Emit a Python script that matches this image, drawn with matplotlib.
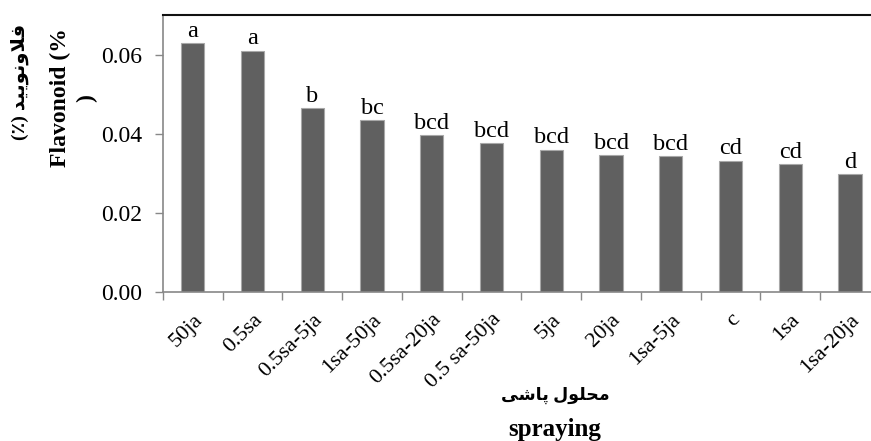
import matplotlib
matplotlib.use('Agg')
import matplotlib.pyplot as plt
import numpy as np

# داده ها
treatments = ['50ja', '0.5sa', '0.5sa-5ja', '1sa-50ja', '0.5sa-20ja', '0.5 sa-50ja',
              '5ja', '20ja', '1sa-5ja', 'c', '1sa', '1sa-20ja']
flavonoid = [0.0628, 0.0610, 0.0465, 0.0434, 0.0397, 0.0376,
             0.0360, 0.0346, 0.0344, 0.0332, 0.0323, 0.0297]
letters = ['a', 'a', 'b', 'bc', 'bcd', 'bcd', 'bcd', 'bcd', 'bcd', 'cd', 'cd', 'd']

ylabel_fa = 'فلاونویید (٪)'
ylabel_en = 'Flavonoid (%\n)'
xlabel_fa = 'محلول پاشی'
xlabel_en = 'spraying'

# شکل دادن حروف فارسی (matplotlib خودش حروف را به هم نمی چسباند)
FORMS = {
    'ف': (0xFED1, 0xFED2, 0xFED3, 0xFED4),
    'ل': (0xFEDD, 0xFEDE, 0xFEDF, 0xFEE0),
    'ا': (0xFE8D, 0xFE8E, None, None),
    'و': (0xFEED, 0xFEEE, None, None),
    'ن': (0xFEE5, 0xFEE6, 0xFEE7, 0xFEE8),
    'ی': (0xFBFC, 0xFBFD, 0xFBFE, 0xFBFF),
    'د': (0xFEA9, 0xFEAA, None, None),
    'پ': (0xFB56, 0xFB57, 0xFB58, 0xFB59),
    'ش': (0xFEB5, 0xFEB6, 0xFEB7, 0xFEB8),
    'ح': (0xFEA1, 0xFEA2, 0xFEA3, 0xFEA4),
    'م': (0xFEE1, 0xFEE2, 0xFEE3, 0xFEE4),
}


def shape_fa(s):
    out = []
    i = 0
    while i < len(s):
        ch = s[i]
        if ch not in FORMS:
            out.append(ch)
            i += 1
            continue
        prev = s[i - 1] if i > 0 else ''
        prev_joins = prev in FORMS and FORMS[prev][2] is not None
        if ch == 'ل' and i + 1 < len(s) and s[i + 1] == 'ا':
            out.append(chr(0xFEFC if prev_joins else 0xFEFB))
            i += 2
            continue
        nxt = s[i + 1] if i + 1 < len(s) else ''
        next_joins = nxt in FORMS and FORMS[ch][2] is not None
        iso, fin, ini, med = FORMS[ch]
        if prev_joins and next_joins:
            out.append(chr(med))
        elif prev_joins:
            out.append(chr(fin))
        elif next_joins:
            out.append(chr(ini))
        else:
            out.append(chr(iso))
        i += 1
    vis = ''.join(out)[::-1]
    return vis.translate(str.maketrans('()', ')('))


plt.rcParams['font.family'] = ['Liberation Serif', 'DejaVu Sans']

fig = plt.figure(figsize=(8.71, 4.41), dpi=100)
ax = fig.add_axes([0.1871, 0.3379, 0.8232, 0.6281])

x = np.arange(len(treatments))
ax.bar(x, flavonoid, width=0.39, color='#606060', edgecolor='#a8a8a8', linewidth=0.8)

for xi, v, t in zip(x, flavonoid, letters):
    ax.annotate(t, (xi, v), xytext=(0, 4.5), textcoords='offset points',
                ha='center', va='baseline', fontsize=17.5)

ax.set_xlim(-0.5, len(treatments) - 0.5)
ax.set_ylim(0, 0.07)
ax.set_yticks([0, 0.02, 0.04, 0.06])
ax.set_yticklabels(['%.2f' % t for t in [0, 0.02, 0.04, 0.06]], fontsize=17)

ax.set_xticks(x)
ax.set_xticklabels(treatments, rotation=45, ha='right', rotation_mode='anchor', fontsize=16)
ax.set_xticks(np.arange(len(treatments) + 1) - 0.5, minor=True)
ax.tick_params(axis='x', which='major', length=0, pad=13)
ax.tick_params(axis='x', which='minor', length=6, color='#888888', width=1)
ax.tick_params(axis='y', length=6, color='#888888', width=1, pad=9)

for s in ['left', 'bottom']:
    ax.spines[s].set_color('#888888')
    ax.spines[s].set_linewidth(1.2)
ax.spines['top'].set_color('#111111')
ax.spines['top'].set_linewidth(1.5)
ax.spines['right'].set_visible(False)

# عنوان محورها
fig.text(0.023, 0.815, shape_fa(ylabel_fa), rotation=90, ha='center', va='center',
         fontsize=14, fontweight='bold')
fig.text(0.084, 0.778, ylabel_en, rotation=90, ha='center', va='center',
         fontsize=17, fontweight='bold', linespacing=1.3, multialignment='center')
fig.text(0.638, 0.104, shape_fa(xlabel_fa), ha='center', va='center',
         fontsize=12.5, fontweight='bold')
fig.text(0.637, 0.025, xlabel_en, ha='center', va='center',
         fontsize=18, fontweight='bold')

fig.savefig('out.png', dpi=100)
